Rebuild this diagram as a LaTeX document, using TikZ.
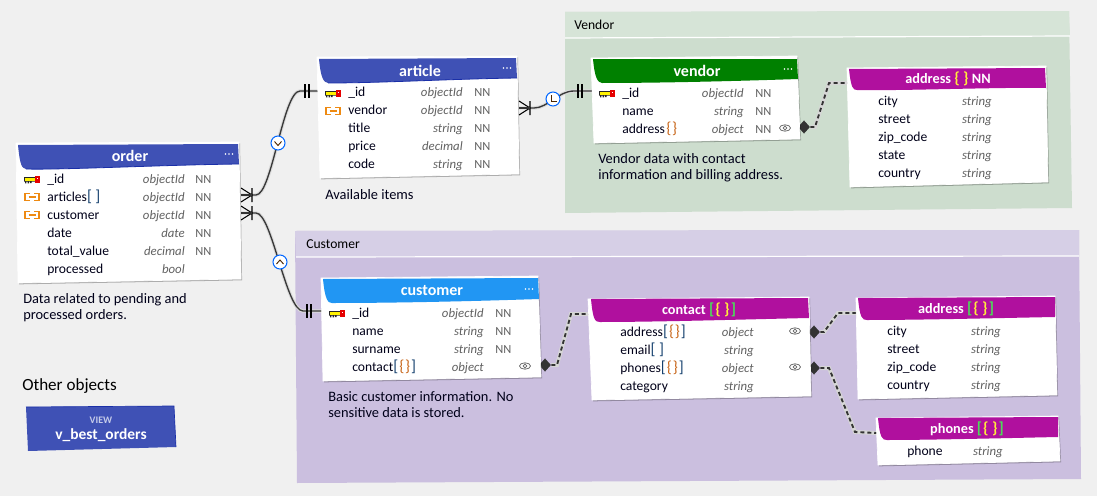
\documentclass[tikz,border=0pt]{standalone}
\usepackage{fontspec}
\setmainfont{Carlito}
\usetikzlibrary{shadows,shapes.geometric}
\definecolor{pagegray}{HTML}{F0F0F0}
\definecolor{vendorhead}{HTML}{D6E4D7}
\definecolor{vendorbody}{HTML}{CDDDCE}
\definecolor{customerhead}{HTML}{D6CFE6}
\definecolor{customerbody}{HTML}{CBBFDF}
\definecolor{headblue}{HTML}{3F51B5}
\definecolor{headblueline}{HTML}{1A2FA8}
\definecolor{headgreen}{HTML}{008000}
\definecolor{headsky}{HTML}{2196F3}
\definecolor{headpurple}{HTML}{B0109E}
\definecolor{bracegold}{HTML}{FFEB3B}
\definecolor{bracegreen}{HTML}{4CDB5A}
\definecolor{braceorange}{HTML}{C8661A}
\definecolor{brackblue}{HTML}{15406E}
\definecolor{fkorange}{HTML}{EE8A12}
\newcommand{\bigmark}{\fontsize{12}{12}\selectfont}
\newcommand{\objbrace}{\hspace{1pt}{\bigmark\textcolor{braceorange}{\{\hspace{.6pt}\}}}}
\newcommand{\arrbrace}{{\bigmark\textcolor{brackblue}{[}\hspace{.8pt}\textcolor{braceorange}{\{\hspace{.6pt}\}}\hspace{.8pt}\textcolor{brackblue}{]}}}
\newcommand{\arrempty}{{\bigmark\textcolor{brackblue}{[\hspace{2.6pt}]}}}
\newcommand{\headbrace}{{\bigmark\textcolor{bracegold}{\{\hspace{2.5pt}\}}}}
\newcommand{\headarr}{{\bigmark\textcolor{bracegreen}{[}\hspace{.8pt}\textcolor{bracegold}{\{\hspace{2.5pt}\}}\hspace{.8pt}\textcolor{bracegreen}{]}}}
\tikzset{
  groupbody/.style={fill=#1,draw=none},
  tablebody/.style={fill=white,draw=white,line width=.5pt,
    drop shadow={shadow xshift=.8pt,shadow yshift=-1pt,opacity=.28,fill=black}},
  tablehead/.style={fill=#1,draw=none},
  tabletitle/.style={text=white,font=\bfseries\fontsize{12}{14}\selectfont,inner sep=0pt},
  subtitle/.style={text=white,font=\bfseries\fontsize{10.7}{13}\selectfont,inner sep=0pt},
  fieldname/.style={anchor=west,inner sep=0pt,text height=8.5pt,text depth=2pt,text=black!90!blue,font=\fontsize{10.2}{12}\selectfont},
  fieldtype/.style={anchor=east,inner sep=0pt,text height=8.5pt,text depth=2pt,text=black!62,font=\itshape\fontsize{9.6}{12}\selectfont},
  fieldnn/.style={anchor=west,inner sep=0pt,text height=8.5pt,text depth=2pt,text=black!62,font=\fontsize{9.3}{12}\selectfont},
  notetext/.style={anchor=west,inner sep=0pt,text height=8.5pt,text depth=2pt,text=black!90!blue,font=\fontsize{10.8}{12}\selectfont},
  grouplabel/.style={anchor=west,inner sep=0pt,text=black,font=\fontsize{10.2}{12}\selectfont},
  relline/.style={draw=black!78,line width=1pt,preaction={draw=black!14,line width=2.6pt}},
  nestline/.style={draw=black!80,line width=1.4pt,dash pattern=on 3pt off 2.2pt,
    preaction={draw=black!16,line width=3pt,solid}},
  nestdot/.style={diamond,fill=black!80,inner sep=0pt,minimum width=9pt,minimum height=10pt},
  relcircle/.style={circle,fill=white,draw=blue!60!cyan,line width=.8pt,inner sep=0pt,minimum size=10.5pt},
  relmark/.style={draw=black!70!orange,line width=.7pt},
  pkkey/.pic={
    \fill[black!85] (-8,-3) rectangle (3,1.5) (-7,1.5) rectangle (-5.6,3.4) (-4.4,1.5) rectangle (-3,3.4) (-1.8,1.5) rectangle (-.4,3);
    \fill[yellow] (-7.2,-2.2) rectangle (3,.7);
    \fill[red!90!black] (3,-3.8) rectangle (8,3.4);
    \fill[white] (4.8,-2.4) rectangle (6.4,-.8);
  },
  fkkey/.pic={
    \draw[fkorange,line width=.8pt] (-2,-3.5) -- (-7,-3.5) -- (-7,3.5) -- (-2,3.5)
      (2,-3.5) -- (7,-3.5) -- (7,3.5) -- (2,3.5) (-3.5,0) -- (3.5,0);
  },
  eyemark/.pic={
    \draw[black!60,line width=.55pt] (0,0) ellipse (5.5 and 3.2) (0,0) circle (1.8);
  },
  menudots/.pic={
    \fill[white] (-3.5,0) circle (.95) (0,0) circle (.95) (3.5,0) circle (.95);
  },
  crowfoot/.pic={
    \draw[black,line width=.8pt] (0,-7) -- (11,0) -- (0,7) (11,-7) -- (11,7);
    \draw[black!80,line width=1.4pt] (0,0) -- (11,0);
  },
  onebar/.pic={
    \draw[black,line width=.8pt] (-2,-7) -- (-2,7) (2,-7) -- (2,7);
  },
}
\begin{document}
\begin{tikzpicture}[x=.75pt,y=-.75pt]
  \useasboundingbox (0,0) rectangle (1097,496);
  \fill[pagegray] (0,0) rectangle (1097,496);

  \fill[groupbody=vendorbody] (565,12) -- (1069,11) -- (1072,208) -- (565,213) -- cycle;
  \fill[groupbody=vendorhead] (565,12) -- (1069,11) -- (1070,36) -- (565,38) -- cycle;
  \draw[white,line width=.9pt] (565,38) -- (1070,36);
  \node[grouplabel] (vendor_label) at (574,25) {Vendor};

  \fill[groupbody=customerbody] (295,231) -- (1079,230) -- (1081,479) -- (297,483) -- cycle;
  \fill[groupbody=customerhead] (295,231) -- (1079,230) -- (1079,256) -- (296,257) -- cycle;
  \draw[white,line width=.9pt] (296,257) -- (1079,256);
  \node[grouplabel] (customer_label) at (306,244) {Customer};

  \coordinate (order_articles_out) at (241,195);
  \coordinate (order_customer_out) at (241,213);
  \coordinate (article_id_in) at (318,91);
  \coordinate (article_vendor_out) at (519,108);
  \coordinate (vendor_id_in) at (592,91);
  \coordinate (customer_id_in) at (322,311);
  \coordinate (vendor_address_in) at (848,83);
  \coordinate (customer_contact_in) at (590,314);
  \coordinate (contact_address_in) at (857,313);
  \coordinate (contact_phones_in) at (877,433);

  \begin{scope}
    \draw[relline] (order_articles_out) -- (256,195) .. controls (272,195) and (283,91) .. (300,91) -- (article_id_in);
    \draw[relline] (order_customer_out) -- (256,213) .. controls (272,213) and (286,311) .. (303,311) -- (customer_id_in);
    \draw[relline] (article_vendor_out) -- (534,108) .. controls (548,108) and (558,91) .. (574,91) -- (vendor_id_in);
  \end{scope}
  \path (order_articles_out) pic {crowfoot} (order_customer_out) pic {crowfoot}
    (article_vendor_out) pic {crowfoot}
    (307,91) pic {onebar} (580,91) pic {onebar} (309,311) pic {onebar};
  \node[relcircle] (rel_order_article) at (278,143) {};
  \node[relcircle] (rel_order_customer) at (280,262) {};
  \node[relcircle] (rel_article_vendor) at (553,99) {};
  \draw[relmark] (274.5,141.5) -- (278,145.5) -- (281.5,141.5);
  \draw[relmark] (276.5,264) -- (280,260) -- (283.5,264);
  \draw[relmark] (551,95) -- (551,101.5) -- (557,101.5);

  \node[nestdot] (vendor_address_dot) at (804,127) {};
  \node[nestdot] (customer_contact_dot) at (545,365) {};
  \node[nestdot] (contact_address_dot) at (814,332) {};
  \node[nestdot] (contact_phones_dot) at (814,368) {};
  \draw[nestline] (vendor_address_dot) -- (815,127) -- (829,83) -- (vendor_address_in);
  \draw[nestline] (customer_contact_dot) -- (557,365) -- (571,314) -- (customer_contact_in);
  \draw[nestline] (contact_address_dot) -- (824,332) -- (838,313) -- (contact_address_in);
  \draw[nestline] (contact_phones_dot) -- (829,368) -- (855,432) -- (contact_phones_in);

  \draw[tablebody] (16,143) -- (239,142) -- (241,279) -- (18,283) -- cycle;
  \fill[tablehead=headblue] (18,145) -- (238,144) -- (239,164) .. controls (160,165) and (60,170) .. (26,169) .. controls (22,168) and (20,166) .. (18,145) -- cycle;
  \draw[headblueline,line width=.6pt] (239,164) .. controls (160,165) and (60,170) .. (26,169);
  \draw
    (130,156) node[tabletitle] (order){order}
    (47,179) node[fieldname] (order_id){\_id}
    (47,197) node[fieldname] (order_articles){articles\arrempty}
    (47,215) node[fieldname] (order_customer){customer}
    (47,233) node[fieldname] (order_date){date}
    (47,251) node[fieldname] (order_total){total\_value}
    (47,269) node[fieldname] (order_processed){processed}
    (185,179) node[fieldtype] (order_id_type){objectId}
    (185,197) node[fieldtype] (order_articles_type){objectId}
    (185,215) node[fieldtype] (order_customer_type){objectId}
    (185,233) node[fieldtype] (order_date_type){date}
    (185,251) node[fieldtype] (order_total_type){decimal}
    (185,269) node[fieldtype] (order_processed_type){bool}
    (195,179) node[fieldnn] (order_id_nn){NN}
    (195,197) node[fieldnn] (order_articles_nn){NN}
    (195,215) node[fieldnn] (order_customer_nn){NN}
    (195,233) node[fieldnn] (order_date_nn){NN}
    (195,251) node[fieldnn] (order_total_nn){NN}
    (23,299) node[notetext] (order_note_a){Data related to pending and}
    (23,315) node[notetext] (order_note_b){processed orders.};
  \path (32,180) pic {pkkey} (32,197) pic {fkkey} (32,215) pic {fkkey} (229,154) pic {menudots};

  \draw[tablebody] (317,57) -- (517,56) -- (519,174) -- (320,178) -- cycle;
  \fill[tablehead=headblue] (319,59) -- (516,58) -- (517,78) .. controls (450,79) and (380,83) .. (328,83) .. controls (324,82) and (321,80) .. (319,59) -- cycle;
  \draw[headblueline,line width=.6pt] (517,78) .. controls (450,79) and (380,83) .. (328,83);
  \draw
    (420,71) node[tabletitle] (article){article}
    (348,92) node[fieldname] (article_id){\_id}
    (348,110) node[fieldname] (article_vendor){vendor}
    (348,128) node[fieldname] (article_title){title}
    (348,146) node[fieldname] (article_price){price}
    (348,164) node[fieldname] (article_code){code}
    (463,92) node[fieldtype] (article_id_type){objectId}
    (463,110) node[fieldtype] (article_vendor_type){objectId}
    (463,128) node[fieldtype] (article_title_type){string}
    (463,146) node[fieldtype] (article_price_type){decimal}
    (463,164) node[fieldtype] (article_code_type){string}
    (474,92) node[fieldnn] (article_id_nn){NN}
    (474,110) node[fieldnn] (article_vendor_nn){NN}
    (474,128) node[fieldnn] (article_title_nn){NN}
    (474,146) node[fieldnn] (article_price_nn){NN}
    (474,164) node[fieldnn] (article_code_nn){NN}
    (325,195) node[notetext] (article_note){Available items};
  \path (333,94) pic {pkkey} (333,111) pic {fkkey} (507,68) pic {menudots};

  \draw[tablebody] (591,58) -- (797,56) -- (800,139) -- (594,143) -- cycle;
  \fill[tablehead=headgreen] (593,59) -- (797,59) -- (798,79) .. controls (740,81) and (660,83) .. (602,83) .. controls (598,82) and (595,80) .. (593,59) -- cycle;
  \draw
    (697,71) node[tabletitle] (vendor){vendor}
    (622,93) node[fieldname] (vendor_id){\_id}
    (622,111) node[fieldname] (vendor_name){name}
    (622,129) node[fieldname] (vendor_address){address\objbrace}
    (744,93) node[fieldtype] (vendor_id_type){objectId}
    (744,111) node[fieldtype] (vendor_name_type){string}
    (744,129) node[fieldtype] (vendor_address_type){object}
    (755,93) node[fieldnn] (vendor_id_nn){NN}
    (755,111) node[fieldnn] (vendor_name_nn){NN}
    (755,129) node[fieldnn] (vendor_address_nn){NN}
    (598,159) node[notetext] (vendor_note_a){Vendor data with contact}
    (598,175) node[notetext] (vendor_note_b){information and billing address.};
  \path (607,94) pic {pkkey} (785,128) pic {eyemark} (788,69) pic {menudots};

  \draw[tablebody] (847,68) -- (1046,66) -- (1048,182) -- (850,187) -- cycle;
  \fill[tablehead=headpurple] (849,69) -- (1045,68) -- (1046,88) .. controls (1000,87) and (900,91) .. (857,90) .. controls (853,90) and (851,88) .. (849,69) -- cycle;
  \draw
    (948,79) node[subtitle] (vendor_addr){address \headbrace{} NN}
    (878,101) node[fieldname] (vendor_addr_city){city}
    (878,119) node[fieldname] (vendor_addr_street){street}
    (878,137) node[fieldname] (vendor_addr_zip){zip\_code}
    (878,155) node[fieldname] (vendor_addr_state){state}
    (878,173) node[fieldname] (vendor_addr_country){country}
    (992,101) node[fieldtype] (vendor_addr_city_type){string}
    (992,119) node[fieldtype] (vendor_addr_street_type){string}
    (992,137) node[fieldtype] (vendor_addr_zip_type){string}
    (992,155) node[fieldtype] (vendor_addr_state_type){string}
    (992,173) node[fieldtype] (vendor_addr_country_type){string};

  \draw[tablebody] (321,278) -- (538,276) -- (541,377) -- (323,381) -- cycle;
  \fill[tablehead=headsky] (323,279) -- (538,278) -- (539,299) .. controls (480,301) and (400,303) .. (332,303) .. controls (328,303) and (325,300) .. (323,279) -- cycle;
  \draw
    (432,291) node[tabletitle] (customer){customer}
    (352,313) node[fieldname] (customer_id){\_id}
    (352,331) node[fieldname] (customer_name){name}
    (352,349) node[fieldname] (customer_surname){surname}
    (352,367) node[fieldname] (customer_contact){contact\arrbrace}
    (484,313) node[fieldtype] (customer_id_type){objectId}
    (484,331) node[fieldtype] (customer_name_type){string}
    (484,349) node[fieldtype] (customer_surname_type){string}
    (484,367) node[fieldtype] (customer_contact_type){object}
    (495,313) node[fieldnn] (customer_id_nn){NN}
    (495,331) node[fieldnn] (customer_name_nn){NN}
    (495,349) node[fieldnn] (customer_surname_nn){NN}
    (328,397) node[notetext] (customer_note_a){Basic customer information. No}
    (328,413) node[notetext] (customer_note_b){sensitive data is stored.};
  \path (337,314) pic {pkkey} (525,366) pic {eyemark} (529,289) pic {menudots};

  \draw[tablebody] (588,299) -- (809,297) -- (811,396) -- (592,400) -- cycle;
  \fill[tablehead=headpurple] (591,299) -- (808,298) -- (809,318) .. controls (760,319) and (660,322) .. (600,322) .. controls (595,322) and (593,320) .. (591,299) -- cycle;
  \draw
    (699,310) node[subtitle] (contact){contact \headarr}
    (620,332) node[fieldname] (contact_address){address\arrbrace}
    (620,350) node[fieldname] (contact_email){email\arrempty}
    (620,368) node[fieldname] (contact_phones){phones\arrbrace}
    (620,386) node[fieldname] (contact_category){category}
    (754,332) node[fieldtype] (contact_address_type){object}
    (754,350) node[fieldtype] (contact_email_type){string}
    (754,368) node[fieldtype] (contact_phones_type){object}
    (754,386) node[fieldtype] (contact_category_type){string};
  \path (795,331) pic {eyemark} (795,367) pic {eyemark};

  \draw[tablebody] (856,298) -- (1055,296) -- (1057,395) -- (858,399) -- cycle;
  \fill[tablehead=headpurple] (858,298) -- (1055,297) -- (1055,317) .. controls (1000,318) and (920,320) .. (867,320) .. controls (862,320) and (860,318) .. (858,298) -- cycle;
  \draw
    (956,309) node[subtitle] (contact_addr){address \headarr}
    (887,331) node[fieldname] (contact_addr_city){city}
    (887,349) node[fieldname] (contact_addr_street){street}
    (887,367) node[fieldname] (contact_addr_zip){zip\_code}
    (887,385) node[fieldname] (contact_addr_country){country}
    (1001,331) node[fieldtype] (contact_addr_city_type){string}
    (1001,349) node[fieldtype] (contact_addr_street_type){string}
    (1001,367) node[fieldtype] (contact_addr_zip_type){string}
    (1001,385) node[fieldtype] (contact_addr_country_type){string};

  \draw[tablebody] (876,418) -- (1058,416) -- (1060,461) -- (878,465) -- cycle;
  \fill[tablehead=headpurple] (878,418) -- (1058,417) -- (1058,437) .. controls (1010,438) and (930,440) .. (887,440) .. controls (882,440) and (880,438) .. (878,418) -- cycle;
  \draw
    (967,429) node[subtitle] (phones){phones \headarr}
    (907,451) node[fieldname] (phones_phone){phone}
    (1003,451) node[fieldtype] (phones_phone_type){string};

  \node[anchor=west,inner sep=0pt,text=black,font=\fontsize{12.8}{15}\selectfont] (other_label) at (22,386) {Other objects};
  \fill[headblue] (26,407) -- (174,406) -- (176,447) -- (28,451) -- cycle;
  \draw[headblueline,line width=.5pt] (26,407) -- (174,406) -- (176,447);
  \node[inner sep=0pt,text=white!70!headblue,font=\bfseries\fontsize{7.5}{9}\selectfont] (view_kind) at (101,420) {VIEW};
  \node[inner sep=0pt,text=white,font=\bfseries\fontsize{11.6}{13}\selectfont] (v_best_orders) at (101,435) {v\_best\_orders};
\end{tikzpicture}
\end{document}
